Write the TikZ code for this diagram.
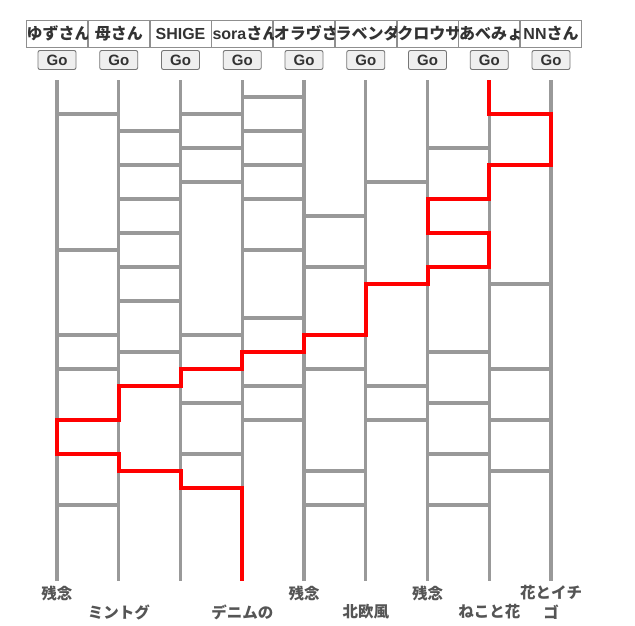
\documentclass[tikz,border=0pt]{standalone}
\usepackage{fontspec}
\setmainfont{Noto Sans CJK JP}
\newfontfamily\lat{Liberation Sans}
\definecolor{laddergray}{HTML}{999999}
\definecolor{pathred}{HTML}{FF0000}
\definecolor{boxgray}{HTML}{8F8F8F}
\definecolor{btnfill}{HTML}{EFEFEF}
\definecolor{btnline}{HTML}{767676}
\definecolor{txtdark}{HTML}{333333}
\definecolor{txtlabel}{HTML}{555555}
\tikzset{
  namebox/.style={draw=boxgray, line width=0.9pt, minimum width=61pt, minimum height=27pt, inner sep=0pt},
  nametext/.style={font=\fontsize{16pt}{16pt}\selectfont\bfseries, text=txtdark, inner sep=0pt},
  gobtn/.style={draw=btnline, fill=btnfill, line width=0.9pt, rounded corners=2pt, minimum width=38pt, minimum height=19pt, inner sep=0pt, font=\lat\fontsize{15pt}{15pt}\selectfont\bfseries, text=txtdark},
  rail/.style={draw=laddergray, line width=3.2pt},
  rung/.style={draw=laddergray, line width=3.2pt},
  route/.style={draw=pathred, line width=4pt, line join=miter},
  endlabel/.style={font=\fontsize{15.5pt}{16pt}\selectfont\bfseries, text=txtlabel, inner sep=0pt}
}
\begin{document}
\begin{tikzpicture}[x=1pt,y=-1pt]
\useasboundingbox[fill=white] (0,0) rectangle (635,625);
% columns
\foreach \i in {1,...,9} {
  \pgfmathsetmacro\cx{57+(\i-1)*61.75}
  \coordinate (t\i) at (\cx,80);
  \coordinate (b\i) at (\cx,581);
  \node[namebox] (n\i) at (\cx,33.5) {};
  \node[gobtn] (g\i) at (\cx,60) {Go};
}
% names (clipped to their boxes)
\foreach \i/\nm/\al/\dx in {1/ゆずさん/west/0.5, 2/母さん/center/0, 3/{\lat SHIGE}/center/0, 4/{{\lat sora}さん}/west/1, 5/オラヴさ/west/0.5, 6/ラベンダ/west/0.5, 7/クロウサ/west/0.5, 8/あべみょ/west/0.5, 9/{{\lat NN}さん}/center/0} {
  \begin{scope}
    \clip (n\i.south west) rectangle (n\i.north east);
    \node[nametext, anchor=\al] (nt\i) at ([xshift=\dx pt]n\i.\al) {\nm};
  \end{scope}
}
% rails
\foreach \i in {1,...,9} { \draw[rail] (t\i) -- (b\i); }
% rungs: gap g is between column g and g+1
\foreach \g/\ys in {
  1/{114,250,335,369,420,454,505},
  2/{131,165,199,233,267,301,352,386,471},
  3/{114,148,182,335,369,403,454,488},
  4/{97,131,165,199,250,318,352,386,420},
  5/{216,267,335,369,471,505},
  6/{182,284,386,420},
  7/{148,199,233,267,352,403,454,505},
  8/{114,165,284,369,420,471}} {
  \foreach \y in \ys {
    \pgfmathsetmacro\xa{57+(\g-1)*61.75}
    \pgfmathsetmacro\xb{57+\g*61.75}
    \draw[rung] (\xa,\y) -- (\xb,\y);
  }
}
% highlighted route
\draw[route] (t8) -- (489.25,114) -- (551,114) -- (551,165) -- (489.25,165)
  -- (489.25,199) -- (427.5,199) -- (427.5,233) -- (489.25,233) -- (489.25,267)
  -- (427.5,267) -- (427.5,284) -- (365.75,284) -- (365.75,335) -- (304,335)
  -- (304,352) -- (242.25,352) -- (242.25,369) -- (180.5,369) -- (180.5,386)
  -- (118.75,386) -- (118.75,420) -- (57,420) -- (57,454) -- (118.75,454)
  -- (118.75,471) -- (180.5,471) -- (180.5,488) -- (242.25,488) -- (b4);
% end labels
\node[endlabel] (l1) at (57,593) {残念};
\node[endlabel] (l2) at (118.75,612) {ミントグ};
\node[endlabel] (l4) at (242.25,612) {デニムの};
\node[endlabel] (l5) at (304,593) {残念};
\node[endlabel] (l6) at (365.75,612) {北欧風};
\node[endlabel] (l7) at (427.5,593) {残念};
\node[endlabel] (l8) at (489.25,612) {ねこと花};
\node[endlabel] (l9a) at (551,593) {花とイチ};
\node[endlabel] (l9b) at (551,612) {ゴ};
\end{tikzpicture}
\end{document}
